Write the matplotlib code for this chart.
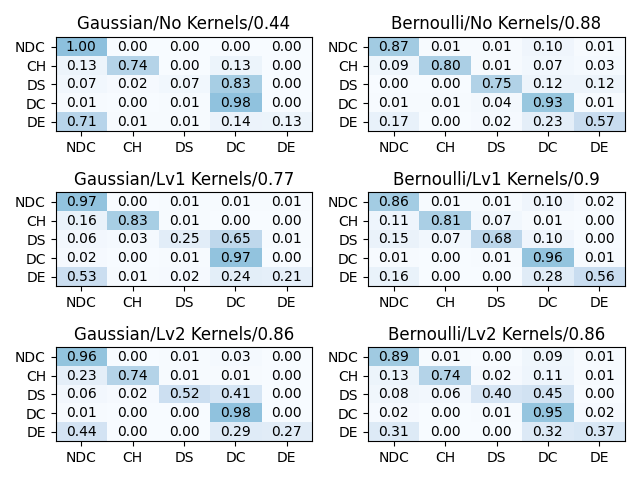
import numpy as np
import matplotlib
matplotlib.use("Agg")
import matplotlib.pyplot as plt

labels = ["NDC", "CH", "DS", "DC", "DE"]

titles = [
    "Gaussian/No Kernels/0.44", "Bernoulli/No Kernels/0.88",
    "Gaussian/Lv1 Kernels/0.77", "Bernoulli/Lv1 Kernels/0.9",
    "Gaussian/Lv2 Kernels/0.86", "Bernoulli/Lv2 Kernels/0.86",
]

gauss_none = [
    [1.00, 0.00, 0.00, 0.00, 0.00],
    [0.13, 0.74, 0.00, 0.13, 0.00],
    [0.07, 0.02, 0.07, 0.83, 0.00],
    [0.01, 0.00, 0.01, 0.98, 0.00],
    [0.71, 0.01, 0.01, 0.14, 0.13],
]
bern_none = [
    [0.87, 0.01, 0.01, 0.10, 0.01],
    [0.09, 0.80, 0.01, 0.07, 0.03],
    [0.00, 0.00, 0.75, 0.12, 0.12],
    [0.01, 0.01, 0.04, 0.93, 0.01],
    [0.17, 0.00, 0.02, 0.23, 0.57],
]
gauss_lv1 = [
    [0.97, 0.00, 0.01, 0.01, 0.01],
    [0.16, 0.83, 0.01, 0.00, 0.00],
    [0.06, 0.03, 0.25, 0.65, 0.01],
    [0.02, 0.00, 0.01, 0.97, 0.00],
    [0.53, 0.01, 0.02, 0.24, 0.21],
]
bern_lv1 = [
    [0.86, 0.01, 0.01, 0.10, 0.02],
    [0.11, 0.81, 0.07, 0.01, 0.00],
    [0.15, 0.07, 0.68, 0.10, 0.00],
    [0.01, 0.00, 0.01, 0.96, 0.01],
    [0.16, 0.00, 0.00, 0.28, 0.56],
]
gauss_lv2 = [
    [0.96, 0.00, 0.01, 0.03, 0.00],
    [0.23, 0.74, 0.01, 0.01, 0.00],
    [0.06, 0.02, 0.52, 0.41, 0.00],
    [0.01, 0.00, 0.00, 0.98, 0.00],
    [0.44, 0.00, 0.00, 0.29, 0.27],
]
bern_lv2 = [
    [0.89, 0.01, 0.00, 0.09, 0.01],
    [0.13, 0.74, 0.02, 0.11, 0.01],
    [0.08, 0.06, 0.40, 0.45, 0.00],
    [0.02, 0.00, 0.01, 0.95, 0.02],
    [0.31, 0.00, 0.00, 0.32, 0.37],
]

mats = [gauss_none, bern_none, gauss_lv1, bern_lv1, gauss_lv2, bern_lv2]

fig, axes = plt.subplots(3, 2, figsize=(6.4, 4.8), dpi=100)
for ax, m, t in zip(axes.flat, mats, titles):
    m = np.array(m)
    ax.imshow(m, cmap="Blues", vmin=0, vmax=2.4, aspect="auto")
    for i in range(m.shape[0]):
        for j in range(m.shape[1]):
            ax.text(j, i, f"{m[i, j]:.2f}", ha="center", va="center", color="black")
    ax.set_xticks(range(len(labels)))
    ax.set_xticklabels(labels)
    ax.set_yticks(range(len(labels)))
    ax.set_yticklabels(labels)
    ax.set_title(t)
fig.tight_layout()
fig.savefig("out.png")
